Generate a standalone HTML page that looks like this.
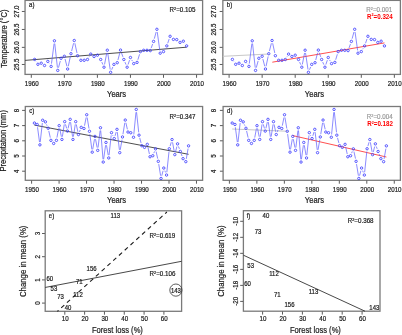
<!DOCTYPE html>
<html><head><meta charset="utf-8"><style>
html,body{margin:0;padding:0;background:#fff;}
body{width:402px;height:335px;overflow:hidden;font-family:"Liberation Sans",sans-serif;}
svg{display:block;will-change:transform;}
</style></head><body>
<svg width="402" height="335" viewBox="0 0 402 335" font-family="Liberation Sans, sans-serif">
<rect width="402" height="335" fill="#fff"/>
<rect x="25.05" y="0.40" width="177.55" height="74.00" fill="none" stroke="#7a7a7a" stroke-width="1.3"/>
<line x1="21.85" y1="11.46" x2="24.75" y2="11.46" stroke="#4a4a4a" stroke-width="0.9" />
<text transform="translate(18.60,11.46) rotate(-90) scale(1,1.08)" font-size="6.2" text-anchor="middle" fill="#1a1a1a" stroke="#1a1a1a" stroke-width="0.18" >27.0</text>
<line x1="21.85" y1="29.46" x2="24.75" y2="29.46" stroke="#4a4a4a" stroke-width="0.9" />
<text transform="translate(18.60,29.46) rotate(-90) scale(1,1.08)" font-size="6.2" text-anchor="middle" fill="#1a1a1a" stroke="#1a1a1a" stroke-width="0.18" >26.5</text>
<line x1="21.85" y1="47.37" x2="24.75" y2="47.37" stroke="#4a4a4a" stroke-width="0.9" />
<text transform="translate(18.60,47.37) rotate(-90) scale(1,1.08)" font-size="6.2" text-anchor="middle" fill="#1a1a1a" stroke="#1a1a1a" stroke-width="0.18" >26.0</text>
<line x1="21.85" y1="64.48" x2="24.75" y2="64.48" stroke="#4a4a4a" stroke-width="0.9" />
<text transform="translate(18.60,64.48) rotate(-90) scale(1,1.08)" font-size="6.2" text-anchor="middle" fill="#1a1a1a" stroke="#1a1a1a" stroke-width="0.18" >25.5</text>
<line x1="31.30" y1="74.70" x2="31.30" y2="77.80" stroke="#4a4a4a" stroke-width="0.9" />
<text transform="translate(31.70,85.95) scale(1,1.15)" font-size="6.2" text-anchor="middle" fill="#1a1a1a" stroke="#1a1a1a" stroke-width="0.18" >1960</text>
<line x1="64.35" y1="74.70" x2="64.35" y2="77.80" stroke="#4a4a4a" stroke-width="0.9" />
<text transform="translate(64.75,85.95) scale(1,1.15)" font-size="6.2" text-anchor="middle" fill="#1a1a1a" stroke="#1a1a1a" stroke-width="0.18" >1970</text>
<line x1="97.40" y1="74.70" x2="97.40" y2="77.80" stroke="#4a4a4a" stroke-width="0.9" />
<text transform="translate(97.80,85.95) scale(1,1.15)" font-size="6.2" text-anchor="middle" fill="#1a1a1a" stroke="#1a1a1a" stroke-width="0.18" >1980</text>
<line x1="130.45" y1="74.70" x2="130.45" y2="77.80" stroke="#4a4a4a" stroke-width="0.9" />
<text transform="translate(130.85,85.95) scale(1,1.15)" font-size="6.2" text-anchor="middle" fill="#1a1a1a" stroke="#1a1a1a" stroke-width="0.18" >1990</text>
<line x1="163.50" y1="74.70" x2="163.50" y2="77.80" stroke="#4a4a4a" stroke-width="0.9" />
<text transform="translate(163.90,85.95) scale(1,1.15)" font-size="6.2" text-anchor="middle" fill="#1a1a1a" stroke="#1a1a1a" stroke-width="0.18" >2000</text>
<line x1="196.55" y1="74.70" x2="196.55" y2="77.80" stroke="#4a4a4a" stroke-width="0.9" />
<text transform="translate(196.95,85.95) scale(1,1.15)" font-size="6.2" text-anchor="middle" fill="#1a1a1a" stroke="#1a1a1a" stroke-width="0.18" >2010</text>
<text transform="translate(116.60,96.80) scale(1,1.15)" font-size="7.6" text-anchor="middle" fill="#1a1a1a" stroke="#1a1a1a" stroke-width="0.18">Years</text>
<text transform="translate(29.05,7.30) scale(1,1.15)" font-size="6.0" text-anchor="start" fill="#1a1a1a" stroke="#1a1a1a" stroke-width="0.18">a)</text>
<rect x="222.85" y="0.40" width="177.55" height="74.00" fill="none" stroke="#7a7a7a" stroke-width="1.3"/>
<line x1="219.65" y1="11.46" x2="222.55" y2="11.46" stroke="#4a4a4a" stroke-width="0.9" />
<text transform="translate(216.40,11.46) rotate(-90) scale(1,1.08)" font-size="6.2" text-anchor="middle" fill="#1a1a1a" stroke="#1a1a1a" stroke-width="0.18" >27.0</text>
<line x1="219.65" y1="29.46" x2="222.55" y2="29.46" stroke="#4a4a4a" stroke-width="0.9" />
<text transform="translate(216.40,29.46) rotate(-90) scale(1,1.08)" font-size="6.2" text-anchor="middle" fill="#1a1a1a" stroke="#1a1a1a" stroke-width="0.18" >26.5</text>
<line x1="219.65" y1="47.37" x2="222.55" y2="47.37" stroke="#4a4a4a" stroke-width="0.9" />
<text transform="translate(216.40,47.37) rotate(-90) scale(1,1.08)" font-size="6.2" text-anchor="middle" fill="#1a1a1a" stroke="#1a1a1a" stroke-width="0.18" >26.0</text>
<line x1="219.65" y1="64.48" x2="222.55" y2="64.48" stroke="#4a4a4a" stroke-width="0.9" />
<text transform="translate(216.40,64.48) rotate(-90) scale(1,1.08)" font-size="6.2" text-anchor="middle" fill="#1a1a1a" stroke="#1a1a1a" stroke-width="0.18" >25.5</text>
<line x1="229.10" y1="74.70" x2="229.10" y2="77.80" stroke="#4a4a4a" stroke-width="0.9" />
<text transform="translate(229.50,85.95) scale(1,1.15)" font-size="6.2" text-anchor="middle" fill="#1a1a1a" stroke="#1a1a1a" stroke-width="0.18" >1960</text>
<line x1="262.15" y1="74.70" x2="262.15" y2="77.80" stroke="#4a4a4a" stroke-width="0.9" />
<text transform="translate(262.55,85.95) scale(1,1.15)" font-size="6.2" text-anchor="middle" fill="#1a1a1a" stroke="#1a1a1a" stroke-width="0.18" >1970</text>
<line x1="295.20" y1="74.70" x2="295.20" y2="77.80" stroke="#4a4a4a" stroke-width="0.9" />
<text transform="translate(295.60,85.95) scale(1,1.15)" font-size="6.2" text-anchor="middle" fill="#1a1a1a" stroke="#1a1a1a" stroke-width="0.18" >1980</text>
<line x1="328.25" y1="74.70" x2="328.25" y2="77.80" stroke="#4a4a4a" stroke-width="0.9" />
<text transform="translate(328.65,85.95) scale(1,1.15)" font-size="6.2" text-anchor="middle" fill="#1a1a1a" stroke="#1a1a1a" stroke-width="0.18" >1990</text>
<line x1="361.30" y1="74.70" x2="361.30" y2="77.80" stroke="#4a4a4a" stroke-width="0.9" />
<text transform="translate(361.70,85.95) scale(1,1.15)" font-size="6.2" text-anchor="middle" fill="#1a1a1a" stroke="#1a1a1a" stroke-width="0.18" >2000</text>
<line x1="394.35" y1="74.70" x2="394.35" y2="77.80" stroke="#4a4a4a" stroke-width="0.9" />
<text transform="translate(394.75,85.95) scale(1,1.15)" font-size="6.2" text-anchor="middle" fill="#1a1a1a" stroke="#1a1a1a" stroke-width="0.18" >2010</text>
<text transform="translate(314.40,96.80) scale(1,1.15)" font-size="7.6" text-anchor="middle" fill="#1a1a1a" stroke="#1a1a1a" stroke-width="0.18">Years</text>
<text transform="translate(226.85,7.30) scale(1,1.15)" font-size="6.0" text-anchor="start" fill="#1a1a1a" stroke="#1a1a1a" stroke-width="0.18">b)</text>
<text transform="translate(6.95,38.70) rotate(-90) scale(1,1.08)" font-size="7.6" text-anchor="middle" fill="#1a1a1a" stroke="#1a1a1a" stroke-width="0.18">Temperature (°C)</text>
<line x1="25.05" y1="60.40" x2="186.64" y2="47.20" stroke="#3a3a3a" stroke-width="0.9" />
<path d="M36.17 61.72L36.34 61.98M49.37 63.74L49.59 64.06M51.49 63.62L54.08 43.58M54.75 43.58L57.43 67.62M58.48 67.70L60.31 61.00M65.06 59.01L66.95 66.29M68.25 66.26L70.37 56.44M71.64 50.98L73.58 43.22M74.86 43.24L76.98 52.96M79.20 57.97L79.24 58.03M88.95 57.11L89.33 56.49M101.81 62.07L102.91 64.63M104.54 64.45L106.78 52.95M107.73 52.97L110.21 69.53M111.70 69.72L112.84 66.98M117.94 59.99L119.82 52.81M121.46 52.74L122.91 56.86M124.94 62.07L126.04 64.63M128.05 64.55L129.55 60.15M131.78 59.96L132.42 61.14M137.88 59.72L139.55 54.28M151.23 47.96L152.64 44.04M154.32 38.70L156.15 32.00M157.27 32.07L159.81 50.43M164.90 49.18L165.40 48.32M167.72 43.25L169.20 38.95M184.94 43.49L185.02 43.61" stroke="#5a5aff" stroke-width="0.7" fill="none"/>
<circle cx="34.61" cy="59.40" r="1.2" stroke="#3c3cff" stroke-width="0.85" fill="none"/>
<circle cx="37.91" cy="64.30" r="1.2" stroke="#3c3cff" stroke-width="0.85" fill="none"/>
<circle cx="41.22" cy="63.20" r="1.2" stroke="#3c3cff" stroke-width="0.85" fill="none"/>
<circle cx="44.52" cy="65.50" r="1.2" stroke="#3c3cff" stroke-width="0.85" fill="none"/>
<circle cx="47.83" cy="61.40" r="1.2" stroke="#3c3cff" stroke-width="0.85" fill="none"/>
<circle cx="51.13" cy="66.40" r="1.2" stroke="#3c3cff" stroke-width="0.85" fill="none"/>
<circle cx="54.44" cy="40.80" r="1.2" stroke="#3c3cff" stroke-width="0.85" fill="none"/>
<circle cx="57.74" cy="70.40" r="1.2" stroke="#3c3cff" stroke-width="0.85" fill="none"/>
<circle cx="61.05" cy="58.30" r="1.2" stroke="#3c3cff" stroke-width="0.85" fill="none"/>
<circle cx="64.35" cy="56.30" r="1.2" stroke="#3c3cff" stroke-width="0.85" fill="none"/>
<circle cx="67.66" cy="69.00" r="1.2" stroke="#3c3cff" stroke-width="0.85" fill="none"/>
<circle cx="70.96" cy="53.70" r="1.2" stroke="#3c3cff" stroke-width="0.85" fill="none"/>
<circle cx="74.27" cy="40.50" r="1.2" stroke="#3c3cff" stroke-width="0.85" fill="none"/>
<circle cx="77.57" cy="55.70" r="1.2" stroke="#3c3cff" stroke-width="0.85" fill="none"/>
<circle cx="80.88" cy="60.30" r="1.2" stroke="#3c3cff" stroke-width="0.85" fill="none"/>
<circle cx="84.18" cy="60.30" r="1.2" stroke="#3c3cff" stroke-width="0.85" fill="none"/>
<circle cx="87.48" cy="59.50" r="1.2" stroke="#3c3cff" stroke-width="0.85" fill="none"/>
<circle cx="90.79" cy="54.10" r="1.2" stroke="#3c3cff" stroke-width="0.85" fill="none"/>
<circle cx="94.09" cy="56.50" r="1.2" stroke="#3c3cff" stroke-width="0.85" fill="none"/>
<circle cx="97.40" cy="55.20" r="1.2" stroke="#3c3cff" stroke-width="0.85" fill="none"/>
<circle cx="100.70" cy="59.50" r="1.2" stroke="#3c3cff" stroke-width="0.85" fill="none"/>
<circle cx="104.01" cy="67.20" r="1.2" stroke="#3c3cff" stroke-width="0.85" fill="none"/>
<circle cx="107.31" cy="50.20" r="1.2" stroke="#3c3cff" stroke-width="0.85" fill="none"/>
<circle cx="110.62" cy="72.30" r="1.2" stroke="#3c3cff" stroke-width="0.85" fill="none"/>
<circle cx="113.92" cy="64.40" r="1.2" stroke="#3c3cff" stroke-width="0.85" fill="none"/>
<circle cx="117.23" cy="62.70" r="1.2" stroke="#3c3cff" stroke-width="0.85" fill="none"/>
<circle cx="120.53" cy="50.10" r="1.2" stroke="#3c3cff" stroke-width="0.85" fill="none"/>
<circle cx="123.84" cy="59.50" r="1.2" stroke="#3c3cff" stroke-width="0.85" fill="none"/>
<circle cx="127.14" cy="67.20" r="1.2" stroke="#3c3cff" stroke-width="0.85" fill="none"/>
<circle cx="130.45" cy="57.50" r="1.2" stroke="#3c3cff" stroke-width="0.85" fill="none"/>
<circle cx="133.75" cy="63.60" r="1.2" stroke="#3c3cff" stroke-width="0.85" fill="none"/>
<circle cx="137.06" cy="62.40" r="1.2" stroke="#3c3cff" stroke-width="0.85" fill="none"/>
<circle cx="140.37" cy="51.60" r="1.2" stroke="#3c3cff" stroke-width="0.85" fill="none"/>
<circle cx="143.67" cy="50.30" r="1.2" stroke="#3c3cff" stroke-width="0.85" fill="none"/>
<circle cx="146.98" cy="50.30" r="1.2" stroke="#3c3cff" stroke-width="0.85" fill="none"/>
<circle cx="150.28" cy="50.60" r="1.2" stroke="#3c3cff" stroke-width="0.85" fill="none"/>
<circle cx="153.59" cy="41.40" r="1.2" stroke="#3c3cff" stroke-width="0.85" fill="none"/>
<circle cx="156.89" cy="29.30" r="1.2" stroke="#3c3cff" stroke-width="0.85" fill="none"/>
<circle cx="160.20" cy="53.20" r="1.2" stroke="#3c3cff" stroke-width="0.85" fill="none"/>
<circle cx="163.50" cy="51.60" r="1.2" stroke="#3c3cff" stroke-width="0.85" fill="none"/>
<circle cx="166.81" cy="45.90" r="1.2" stroke="#3c3cff" stroke-width="0.85" fill="none"/>
<circle cx="170.11" cy="36.30" r="1.2" stroke="#3c3cff" stroke-width="0.85" fill="none"/>
<circle cx="173.42" cy="39.40" r="1.2" stroke="#3c3cff" stroke-width="0.85" fill="none"/>
<circle cx="176.72" cy="39.60" r="1.2" stroke="#3c3cff" stroke-width="0.85" fill="none"/>
<circle cx="180.03" cy="42.40" r="1.2" stroke="#3c3cff" stroke-width="0.85" fill="none"/>
<circle cx="183.33" cy="41.20" r="1.2" stroke="#3c3cff" stroke-width="0.85" fill="none"/>
<circle cx="186.64" cy="45.90" r="1.2" stroke="#3c3cff" stroke-width="0.85" fill="none"/>
<text transform="translate(195.40,12.26) scale(1,1.1)" font-size="6.25" text-anchor="end" fill="#1a1a1a" stroke="#1a1a1a" stroke-width="0.18">R<tspan font-size="3.75" dy="-1.88">2</tspan><tspan dy="1.88">=0.105</tspan></text>
<line x1="222.85" y1="56.30" x2="269.00" y2="54.00" stroke="#c8c8c8" stroke-width="1.0" />
<line x1="272.30" y1="62.20" x2="384.44" y2="42.90" stroke="#ff5050" stroke-width="1.0" />
<path d="M233.97 61.72L234.14 61.98M247.17 63.74L247.39 64.06M249.29 63.62L251.88 43.58M252.55 43.58L255.23 67.62M256.28 67.70L258.11 61.00M262.86 59.01L264.75 66.29M266.05 66.26L268.17 56.44M269.44 50.98L271.38 43.22M272.66 43.24L274.78 52.96M277.00 57.97L277.04 58.03M286.75 57.11L287.13 56.49M299.61 62.07L300.71 64.63M302.34 64.45L304.58 52.95M305.53 52.97L308.01 69.53M309.50 69.72L310.64 66.98M315.74 59.99L317.62 52.81M319.26 52.74L320.71 56.86M322.74 62.07L323.84 64.63M325.85 64.55L327.35 60.15M329.58 59.96L330.22 61.14M335.68 59.72L337.35 54.28M349.03 47.96L350.44 44.04M352.12 38.70L353.95 32.00M355.07 32.07L357.61 50.43M362.70 49.18L363.20 48.32M365.52 43.25L367.00 38.95M382.74 43.49L382.82 43.61" stroke="#5a5aff" stroke-width="0.7" fill="none"/>
<circle cx="232.41" cy="59.40" r="1.2" stroke="#3c3cff" stroke-width="0.85" fill="none"/>
<circle cx="235.71" cy="64.30" r="1.2" stroke="#3c3cff" stroke-width="0.85" fill="none"/>
<circle cx="239.02" cy="63.20" r="1.2" stroke="#3c3cff" stroke-width="0.85" fill="none"/>
<circle cx="242.32" cy="65.50" r="1.2" stroke="#3c3cff" stroke-width="0.85" fill="none"/>
<circle cx="245.62" cy="61.40" r="1.2" stroke="#3c3cff" stroke-width="0.85" fill="none"/>
<circle cx="248.93" cy="66.40" r="1.2" stroke="#3c3cff" stroke-width="0.85" fill="none"/>
<circle cx="252.24" cy="40.80" r="1.2" stroke="#3c3cff" stroke-width="0.85" fill="none"/>
<circle cx="255.54" cy="70.40" r="1.2" stroke="#3c3cff" stroke-width="0.85" fill="none"/>
<circle cx="258.85" cy="58.30" r="1.2" stroke="#3c3cff" stroke-width="0.85" fill="none"/>
<circle cx="262.15" cy="56.30" r="1.2" stroke="#3c3cff" stroke-width="0.85" fill="none"/>
<circle cx="265.46" cy="69.00" r="1.2" stroke="#3c3cff" stroke-width="0.85" fill="none"/>
<circle cx="268.76" cy="53.70" r="1.2" stroke="#3c3cff" stroke-width="0.85" fill="none"/>
<circle cx="272.06" cy="40.50" r="1.2" stroke="#3c3cff" stroke-width="0.85" fill="none"/>
<circle cx="275.37" cy="55.70" r="1.2" stroke="#3c3cff" stroke-width="0.85" fill="none"/>
<circle cx="278.68" cy="60.30" r="1.2" stroke="#3c3cff" stroke-width="0.85" fill="none"/>
<circle cx="281.98" cy="60.30" r="1.2" stroke="#3c3cff" stroke-width="0.85" fill="none"/>
<circle cx="285.29" cy="59.50" r="1.2" stroke="#3c3cff" stroke-width="0.85" fill="none"/>
<circle cx="288.59" cy="54.10" r="1.2" stroke="#3c3cff" stroke-width="0.85" fill="none"/>
<circle cx="291.89" cy="56.50" r="1.2" stroke="#3c3cff" stroke-width="0.85" fill="none"/>
<circle cx="295.20" cy="55.20" r="1.2" stroke="#3c3cff" stroke-width="0.85" fill="none"/>
<circle cx="298.50" cy="59.50" r="1.2" stroke="#3c3cff" stroke-width="0.85" fill="none"/>
<circle cx="301.81" cy="67.20" r="1.2" stroke="#3c3cff" stroke-width="0.85" fill="none"/>
<circle cx="305.12" cy="50.20" r="1.2" stroke="#3c3cff" stroke-width="0.85" fill="none"/>
<circle cx="308.42" cy="72.30" r="1.2" stroke="#3c3cff" stroke-width="0.85" fill="none"/>
<circle cx="311.73" cy="64.40" r="1.2" stroke="#3c3cff" stroke-width="0.85" fill="none"/>
<circle cx="315.03" cy="62.70" r="1.2" stroke="#3c3cff" stroke-width="0.85" fill="none"/>
<circle cx="318.34" cy="50.10" r="1.2" stroke="#3c3cff" stroke-width="0.85" fill="none"/>
<circle cx="321.64" cy="59.50" r="1.2" stroke="#3c3cff" stroke-width="0.85" fill="none"/>
<circle cx="324.94" cy="67.20" r="1.2" stroke="#3c3cff" stroke-width="0.85" fill="none"/>
<circle cx="328.25" cy="57.50" r="1.2" stroke="#3c3cff" stroke-width="0.85" fill="none"/>
<circle cx="331.56" cy="63.60" r="1.2" stroke="#3c3cff" stroke-width="0.85" fill="none"/>
<circle cx="334.86" cy="62.40" r="1.2" stroke="#3c3cff" stroke-width="0.85" fill="none"/>
<circle cx="338.17" cy="51.60" r="1.2" stroke="#3c3cff" stroke-width="0.85" fill="none"/>
<circle cx="341.47" cy="50.30" r="1.2" stroke="#3c3cff" stroke-width="0.85" fill="none"/>
<circle cx="344.78" cy="50.30" r="1.2" stroke="#3c3cff" stroke-width="0.85" fill="none"/>
<circle cx="348.08" cy="50.60" r="1.2" stroke="#3c3cff" stroke-width="0.85" fill="none"/>
<circle cx="351.38" cy="41.40" r="1.2" stroke="#3c3cff" stroke-width="0.85" fill="none"/>
<circle cx="354.69" cy="29.30" r="1.2" stroke="#3c3cff" stroke-width="0.85" fill="none"/>
<circle cx="358.00" cy="53.20" r="1.2" stroke="#3c3cff" stroke-width="0.85" fill="none"/>
<circle cx="361.30" cy="51.60" r="1.2" stroke="#3c3cff" stroke-width="0.85" fill="none"/>
<circle cx="364.61" cy="45.90" r="1.2" stroke="#3c3cff" stroke-width="0.85" fill="none"/>
<circle cx="367.91" cy="36.30" r="1.2" stroke="#3c3cff" stroke-width="0.85" fill="none"/>
<circle cx="371.22" cy="39.40" r="1.2" stroke="#3c3cff" stroke-width="0.85" fill="none"/>
<circle cx="374.52" cy="39.60" r="1.2" stroke="#3c3cff" stroke-width="0.85" fill="none"/>
<circle cx="377.83" cy="42.40" r="1.2" stroke="#3c3cff" stroke-width="0.85" fill="none"/>
<circle cx="381.13" cy="41.20" r="1.2" stroke="#3c3cff" stroke-width="0.85" fill="none"/>
<circle cx="384.44" cy="45.90" r="1.2" stroke="#3c3cff" stroke-width="0.85" fill="none"/>
<text transform="translate(392.20,12.36) scale(1,1.1)" font-size="6.25" text-anchor="end" fill="#9a9a9a" stroke="#9a9a9a" stroke-width="0.18">R<tspan font-size="3.75" dy="-1.88">2</tspan><tspan dy="1.88">=0.001</tspan></text>
<text transform="translate(392.80,18.56) scale(1,1.1)" font-size="6.25" text-anchor="end" fill="#ff0000" stroke="#ff0000" stroke-width="0" font-weight="bold">R<tspan font-size="3.75" dy="-1.88">2</tspan><tspan dy="1.88">=0.324</tspan></text>
<rect x="25.30" y="106.50" width="177.30" height="73.80" fill="none" stroke="#7a7a7a" stroke-width="1.3"/>
<line x1="22.10" y1="110.40" x2="25.00" y2="110.40" stroke="#4a4a4a" stroke-width="0.9" />
<text transform="translate(18.60,110.40) rotate(-90) scale(1,1.08)" font-size="6.2" text-anchor="middle" fill="#1a1a1a" stroke="#1a1a1a" stroke-width="0.18" >8</text>
<line x1="22.10" y1="125.60" x2="25.00" y2="125.60" stroke="#4a4a4a" stroke-width="0.9" />
<text transform="translate(18.60,125.60) rotate(-90) scale(1,1.08)" font-size="6.2" text-anchor="middle" fill="#1a1a1a" stroke="#1a1a1a" stroke-width="0.18" >7</text>
<line x1="22.10" y1="140.80" x2="25.00" y2="140.80" stroke="#4a4a4a" stroke-width="0.9" />
<text transform="translate(18.60,140.80) rotate(-90) scale(1,1.08)" font-size="6.2" text-anchor="middle" fill="#1a1a1a" stroke="#1a1a1a" stroke-width="0.18" >6</text>
<line x1="22.10" y1="156.00" x2="25.00" y2="156.00" stroke="#4a4a4a" stroke-width="0.9" />
<text transform="translate(18.60,156.00) rotate(-90) scale(1,1.08)" font-size="6.2" text-anchor="middle" fill="#1a1a1a" stroke="#1a1a1a" stroke-width="0.18" >5</text>
<line x1="22.10" y1="171.20" x2="25.00" y2="171.20" stroke="#4a4a4a" stroke-width="0.9" />
<text transform="translate(18.60,171.20) rotate(-90) scale(1,1.08)" font-size="6.2" text-anchor="middle" fill="#1a1a1a" stroke="#1a1a1a" stroke-width="0.18" >4</text>
<line x1="31.60" y1="180.60" x2="31.60" y2="183.70" stroke="#4a4a4a" stroke-width="0.9" />
<text transform="translate(32.00,192.15) scale(1,1.15)" font-size="6.2" text-anchor="middle" fill="#1a1a1a" stroke="#1a1a1a" stroke-width="0.18" >1950</text>
<line x1="59.08" y1="180.60" x2="59.08" y2="183.70" stroke="#4a4a4a" stroke-width="0.9" />
<text transform="translate(59.48,192.15) scale(1,1.15)" font-size="6.2" text-anchor="middle" fill="#1a1a1a" stroke="#1a1a1a" stroke-width="0.18" >1960</text>
<line x1="86.56" y1="180.60" x2="86.56" y2="183.70" stroke="#4a4a4a" stroke-width="0.9" />
<text transform="translate(86.96,192.15) scale(1,1.15)" font-size="6.2" text-anchor="middle" fill="#1a1a1a" stroke="#1a1a1a" stroke-width="0.18" >1970</text>
<line x1="114.04" y1="180.60" x2="114.04" y2="183.70" stroke="#4a4a4a" stroke-width="0.9" />
<text transform="translate(114.44,192.15) scale(1,1.15)" font-size="6.2" text-anchor="middle" fill="#1a1a1a" stroke="#1a1a1a" stroke-width="0.18" >1980</text>
<line x1="141.52" y1="180.60" x2="141.52" y2="183.70" stroke="#4a4a4a" stroke-width="0.9" />
<text transform="translate(141.92,192.15) scale(1,1.15)" font-size="6.2" text-anchor="middle" fill="#1a1a1a" stroke="#1a1a1a" stroke-width="0.18" >1990</text>
<line x1="169.00" y1="180.60" x2="169.00" y2="183.70" stroke="#4a4a4a" stroke-width="0.9" />
<text transform="translate(169.40,192.15) scale(1,1.15)" font-size="6.2" text-anchor="middle" fill="#1a1a1a" stroke="#1a1a1a" stroke-width="0.18" >2000</text>
<line x1="196.48" y1="180.60" x2="196.48" y2="183.70" stroke="#4a4a4a" stroke-width="0.9" />
<text transform="translate(196.88,192.15) scale(1,1.15)" font-size="6.2" text-anchor="middle" fill="#1a1a1a" stroke="#1a1a1a" stroke-width="0.18" >2010</text>
<text transform="translate(116.60,203.00) scale(1,1.15)" font-size="7.6" text-anchor="middle" fill="#1a1a1a" stroke="#1a1a1a" stroke-width="0.18">Years</text>
<text transform="translate(29.30,113.40) scale(1,1.15)" font-size="6.0" text-anchor="start" fill="#1a1a1a" stroke="#1a1a1a" stroke-width="0.18">c)</text>
<rect x="223.10" y="106.50" width="177.30" height="73.80" fill="none" stroke="#7a7a7a" stroke-width="1.3"/>
<line x1="219.90" y1="110.40" x2="222.80" y2="110.40" stroke="#4a4a4a" stroke-width="0.9" />
<text transform="translate(216.40,110.40) rotate(-90) scale(1,1.08)" font-size="6.2" text-anchor="middle" fill="#1a1a1a" stroke="#1a1a1a" stroke-width="0.18" >8</text>
<line x1="219.90" y1="125.60" x2="222.80" y2="125.60" stroke="#4a4a4a" stroke-width="0.9" />
<text transform="translate(216.40,125.60) rotate(-90) scale(1,1.08)" font-size="6.2" text-anchor="middle" fill="#1a1a1a" stroke="#1a1a1a" stroke-width="0.18" >7</text>
<line x1="219.90" y1="140.80" x2="222.80" y2="140.80" stroke="#4a4a4a" stroke-width="0.9" />
<text transform="translate(216.40,140.80) rotate(-90) scale(1,1.08)" font-size="6.2" text-anchor="middle" fill="#1a1a1a" stroke="#1a1a1a" stroke-width="0.18" >6</text>
<line x1="219.90" y1="156.00" x2="222.80" y2="156.00" stroke="#4a4a4a" stroke-width="0.9" />
<text transform="translate(216.40,156.00) rotate(-90) scale(1,1.08)" font-size="6.2" text-anchor="middle" fill="#1a1a1a" stroke="#1a1a1a" stroke-width="0.18" >5</text>
<line x1="219.90" y1="171.20" x2="222.80" y2="171.20" stroke="#4a4a4a" stroke-width="0.9" />
<text transform="translate(216.40,171.20) rotate(-90) scale(1,1.08)" font-size="6.2" text-anchor="middle" fill="#1a1a1a" stroke="#1a1a1a" stroke-width="0.18" >4</text>
<line x1="229.40" y1="180.60" x2="229.40" y2="183.70" stroke="#4a4a4a" stroke-width="0.9" />
<text transform="translate(229.80,192.15) scale(1,1.15)" font-size="6.2" text-anchor="middle" fill="#1a1a1a" stroke="#1a1a1a" stroke-width="0.18" >1950</text>
<line x1="256.88" y1="180.60" x2="256.88" y2="183.70" stroke="#4a4a4a" stroke-width="0.9" />
<text transform="translate(257.28,192.15) scale(1,1.15)" font-size="6.2" text-anchor="middle" fill="#1a1a1a" stroke="#1a1a1a" stroke-width="0.18" >1960</text>
<line x1="284.36" y1="180.60" x2="284.36" y2="183.70" stroke="#4a4a4a" stroke-width="0.9" />
<text transform="translate(284.76,192.15) scale(1,1.15)" font-size="6.2" text-anchor="middle" fill="#1a1a1a" stroke="#1a1a1a" stroke-width="0.18" >1970</text>
<line x1="311.84" y1="180.60" x2="311.84" y2="183.70" stroke="#4a4a4a" stroke-width="0.9" />
<text transform="translate(312.24,192.15) scale(1,1.15)" font-size="6.2" text-anchor="middle" fill="#1a1a1a" stroke="#1a1a1a" stroke-width="0.18" >1980</text>
<line x1="339.32" y1="180.60" x2="339.32" y2="183.70" stroke="#4a4a4a" stroke-width="0.9" />
<text transform="translate(339.72,192.15) scale(1,1.15)" font-size="6.2" text-anchor="middle" fill="#1a1a1a" stroke="#1a1a1a" stroke-width="0.18" >1990</text>
<line x1="366.80" y1="180.60" x2="366.80" y2="183.70" stroke="#4a4a4a" stroke-width="0.9" />
<text transform="translate(367.20,192.15) scale(1,1.15)" font-size="6.2" text-anchor="middle" fill="#1a1a1a" stroke="#1a1a1a" stroke-width="0.18" >2000</text>
<line x1="394.28" y1="180.60" x2="394.28" y2="183.70" stroke="#4a4a4a" stroke-width="0.9" />
<text transform="translate(394.68,192.15) scale(1,1.15)" font-size="6.2" text-anchor="middle" fill="#1a1a1a" stroke="#1a1a1a" stroke-width="0.18" >2010</text>
<text transform="translate(314.40,203.00) scale(1,1.15)" font-size="7.6" text-anchor="middle" fill="#1a1a1a" stroke="#1a1a1a" stroke-width="0.18">Years</text>
<text transform="translate(227.10,113.40) scale(1,1.15)" font-size="6.0" text-anchor="start" fill="#1a1a1a" stroke="#1a1a1a" stroke-width="0.18">d)</text>
<text transform="translate(6.40,140.80) rotate(-90) scale(1,1.08)" font-size="7.6" text-anchor="middle" fill="#1a1a1a" stroke="#1a1a1a" stroke-width="0.18">Precipitation (mm)</text>
<line x1="34.40" y1="125.10" x2="188.57" y2="154.30" stroke="#3a3a3a" stroke-width="0.9" />
<path d="M37.53 127.22L39.53 142.08M40.22 142.07L42.35 123.03M46.52 124.42L47.06 125.68M48.79 130.98L50.30 137.62M56.94 137.60L58.66 128.40M59.73 128.40L61.39 136.70M62.36 136.68L64.26 124.42M65.47 124.34L66.66 128.41M68.08 128.37L69.55 122.08M70.57 122.12L72.57 136.68M73.37 136.68L75.27 124.42M76.28 124.39L77.87 131.81M79.45 131.93L80.20 129.97M84.51 125.70L86.16 117.50M87.17 117.51L89.00 128.54M89.83 134.08L91.85 149.37M92.70 149.39L94.49 139.16M95.51 139.15L97.18 147.60M98.06 147.57L100.14 130.53M100.70 130.54L103.00 159.26M103.62 159.28L105.59 145.22M106.47 145.21L108.24 155.19M109.04 155.17L111.18 135.43M112.67 135.19L113.06 136.01M115.04 135.87L116.19 132.03M117.32 132.13L119.42 149.87M120.23 149.89L122.02 139.71M122.95 134.19L124.80 122.81M125.88 122.78L127.38 129.32M133.79 134.46L135.99 112.24M136.56 112.23L138.72 132.37M139.73 137.86L141.06 142.94M147.88 147.08L149.42 154.02M153.82 153.15L154.50 151.45M156.14 151.58L157.69 158.62M158.73 164.11L160.60 175.69M161.76 175.74L163.08 170.76M164.82 170.66L165.52 172.44M166.84 172.27L169.01 151.53M170.10 146.07L171.25 142.23M172.56 142.30L174.30 151.90M175.50 151.94L176.87 146.56M178.51 146.48L179.36 148.82M181.31 154.07L182.06 156.03M186.30 158.89L188.09 148.61" stroke="#5a5aff" stroke-width="0.7" fill="none"/>
<circle cx="34.40" cy="123.05" r="1.2" stroke="#3c3cff" stroke-width="0.85" fill="none"/>
<circle cx="37.16" cy="124.45" r="1.2" stroke="#3c3cff" stroke-width="0.85" fill="none"/>
<circle cx="39.91" cy="144.85" r="1.2" stroke="#3c3cff" stroke-width="0.85" fill="none"/>
<circle cx="42.66" cy="120.25" r="1.2" stroke="#3c3cff" stroke-width="0.85" fill="none"/>
<circle cx="45.42" cy="121.85" r="1.2" stroke="#3c3cff" stroke-width="0.85" fill="none"/>
<circle cx="48.17" cy="128.25" r="1.2" stroke="#3c3cff" stroke-width="0.85" fill="none"/>
<circle cx="50.92" cy="140.35" r="1.2" stroke="#3c3cff" stroke-width="0.85" fill="none"/>
<circle cx="53.67" cy="143.45" r="1.2" stroke="#3c3cff" stroke-width="0.85" fill="none"/>
<circle cx="56.43" cy="140.35" r="1.2" stroke="#3c3cff" stroke-width="0.85" fill="none"/>
<circle cx="59.18" cy="125.65" r="1.2" stroke="#3c3cff" stroke-width="0.85" fill="none"/>
<circle cx="61.93" cy="139.45" r="1.2" stroke="#3c3cff" stroke-width="0.85" fill="none"/>
<circle cx="64.69" cy="121.65" r="1.2" stroke="#3c3cff" stroke-width="0.85" fill="none"/>
<circle cx="67.44" cy="131.10" r="1.2" stroke="#3c3cff" stroke-width="0.85" fill="none"/>
<circle cx="70.19" cy="119.35" r="1.2" stroke="#3c3cff" stroke-width="0.85" fill="none"/>
<circle cx="72.95" cy="139.45" r="1.2" stroke="#3c3cff" stroke-width="0.85" fill="none"/>
<circle cx="75.70" cy="121.65" r="1.2" stroke="#3c3cff" stroke-width="0.85" fill="none"/>
<circle cx="78.45" cy="134.55" r="1.2" stroke="#3c3cff" stroke-width="0.85" fill="none"/>
<circle cx="81.20" cy="127.35" r="1.2" stroke="#3c3cff" stroke-width="0.85" fill="none"/>
<circle cx="83.96" cy="128.45" r="1.2" stroke="#3c3cff" stroke-width="0.85" fill="none"/>
<circle cx="86.71" cy="114.75" r="1.2" stroke="#3c3cff" stroke-width="0.85" fill="none"/>
<circle cx="89.46" cy="131.30" r="1.2" stroke="#3c3cff" stroke-width="0.85" fill="none"/>
<circle cx="92.22" cy="152.15" r="1.2" stroke="#3c3cff" stroke-width="0.85" fill="none"/>
<circle cx="94.97" cy="136.40" r="1.2" stroke="#3c3cff" stroke-width="0.85" fill="none"/>
<circle cx="97.72" cy="150.35" r="1.2" stroke="#3c3cff" stroke-width="0.85" fill="none"/>
<circle cx="100.48" cy="127.75" r="1.2" stroke="#3c3cff" stroke-width="0.85" fill="none"/>
<circle cx="103.23" cy="162.05" r="1.2" stroke="#3c3cff" stroke-width="0.85" fill="none"/>
<circle cx="105.98" cy="142.45" r="1.2" stroke="#3c3cff" stroke-width="0.85" fill="none"/>
<circle cx="108.73" cy="157.95" r="1.2" stroke="#3c3cff" stroke-width="0.85" fill="none"/>
<circle cx="111.49" cy="132.65" r="1.2" stroke="#3c3cff" stroke-width="0.85" fill="none"/>
<circle cx="114.24" cy="138.55" r="1.2" stroke="#3c3cff" stroke-width="0.85" fill="none"/>
<circle cx="116.99" cy="129.35" r="1.2" stroke="#3c3cff" stroke-width="0.85" fill="none"/>
<circle cx="119.75" cy="152.65" r="1.2" stroke="#3c3cff" stroke-width="0.85" fill="none"/>
<circle cx="122.50" cy="136.95" r="1.2" stroke="#3c3cff" stroke-width="0.85" fill="none"/>
<circle cx="125.25" cy="120.05" r="1.2" stroke="#3c3cff" stroke-width="0.85" fill="none"/>
<circle cx="128.00" cy="132.05" r="1.2" stroke="#3c3cff" stroke-width="0.85" fill="none"/>
<circle cx="130.76" cy="132.75" r="1.2" stroke="#3c3cff" stroke-width="0.85" fill="none"/>
<circle cx="133.51" cy="137.25" r="1.2" stroke="#3c3cff" stroke-width="0.85" fill="none"/>
<circle cx="136.26" cy="109.45" r="1.2" stroke="#3c3cff" stroke-width="0.85" fill="none"/>
<circle cx="139.02" cy="135.15" r="1.2" stroke="#3c3cff" stroke-width="0.85" fill="none"/>
<circle cx="141.77" cy="145.65" r="1.2" stroke="#3c3cff" stroke-width="0.85" fill="none"/>
<circle cx="144.52" cy="147.35" r="1.2" stroke="#3c3cff" stroke-width="0.85" fill="none"/>
<circle cx="147.28" cy="144.35" r="1.2" stroke="#3c3cff" stroke-width="0.85" fill="none"/>
<circle cx="150.03" cy="156.75" r="1.2" stroke="#3c3cff" stroke-width="0.85" fill="none"/>
<circle cx="152.78" cy="155.75" r="1.2" stroke="#3c3cff" stroke-width="0.85" fill="none"/>
<circle cx="155.53" cy="148.85" r="1.2" stroke="#3c3cff" stroke-width="0.85" fill="none"/>
<circle cx="158.29" cy="161.35" r="1.2" stroke="#3c3cff" stroke-width="0.85" fill="none"/>
<circle cx="161.04" cy="178.45" r="1.2" stroke="#3c3cff" stroke-width="0.85" fill="none"/>
<circle cx="163.79" cy="168.05" r="1.2" stroke="#3c3cff" stroke-width="0.85" fill="none"/>
<circle cx="166.55" cy="175.05" r="1.2" stroke="#3c3cff" stroke-width="0.85" fill="none"/>
<circle cx="169.30" cy="148.75" r="1.2" stroke="#3c3cff" stroke-width="0.85" fill="none"/>
<circle cx="172.05" cy="139.55" r="1.2" stroke="#3c3cff" stroke-width="0.85" fill="none"/>
<circle cx="174.81" cy="154.65" r="1.2" stroke="#3c3cff" stroke-width="0.85" fill="none"/>
<circle cx="177.56" cy="143.85" r="1.2" stroke="#3c3cff" stroke-width="0.85" fill="none"/>
<circle cx="180.31" cy="151.45" r="1.2" stroke="#3c3cff" stroke-width="0.85" fill="none"/>
<circle cx="183.07" cy="158.65" r="1.2" stroke="#3c3cff" stroke-width="0.85" fill="none"/>
<circle cx="185.82" cy="161.65" r="1.2" stroke="#3c3cff" stroke-width="0.85" fill="none"/>
<circle cx="188.57" cy="145.85" r="1.2" stroke="#3c3cff" stroke-width="0.85" fill="none"/>
<text transform="translate(195.40,119.06) scale(1,1.1)" font-size="6.25" text-anchor="end" fill="#1a1a1a" stroke="#1a1a1a" stroke-width="0.18">R<tspan font-size="3.75" dy="-1.88">2</tspan><tspan dy="1.88">=0.347</tspan></text>
<line x1="232.20" y1="129.00" x2="288.60" y2="131.30" stroke="#c8c8c8" stroke-width="1.0" />
<line x1="292.40" y1="135.50" x2="386.37" y2="157.00" stroke="#ff5050" stroke-width="1.0" />
<path d="M235.33 127.22L237.33 142.08M238.02 142.07L240.15 123.03M244.32 124.42L244.86 125.68M246.59 130.98L248.10 137.62M254.74 137.60L256.46 128.40M257.53 128.40L259.19 136.70M260.16 136.68L262.06 124.42M263.27 124.34L264.46 128.41M265.88 128.37L267.35 122.08M268.37 122.12L270.37 136.68M271.17 136.68L273.07 124.42M274.08 124.39L275.67 131.81M277.25 131.93L278.00 129.97M282.31 125.70L283.96 117.50M284.97 117.51L286.80 128.54M287.63 134.08L289.65 149.37M290.50 149.39L292.29 139.16M293.31 139.15L294.98 147.60M295.86 147.57L297.94 130.53M298.50 130.54L300.80 159.26M301.42 159.28L303.39 145.22M304.27 145.21L306.04 155.19M306.84 155.17L308.98 135.43M310.47 135.19L310.86 136.01M312.84 135.87L313.99 132.03M315.12 132.13L317.22 149.87M318.03 149.89L319.82 139.71M320.75 134.19L322.60 122.81M323.68 122.78L325.18 129.32M331.59 134.46L333.79 112.24M334.36 112.23L336.52 132.37M337.53 137.86L338.86 142.94M345.68 147.08L347.22 154.02M351.62 153.15L352.30 151.45M353.94 151.58L355.49 158.62M356.53 164.11L358.40 175.69M359.56 175.74L360.88 170.76M362.62 170.66L363.32 172.44M364.64 172.27L366.81 151.53M367.90 146.07L369.05 142.23M370.36 142.30L372.10 151.90M373.30 151.94L374.67 146.56M376.31 146.48L377.16 148.82M379.11 154.07L379.86 156.03M384.10 158.89L385.89 148.61" stroke="#5a5aff" stroke-width="0.7" fill="none"/>
<circle cx="232.20" cy="123.05" r="1.2" stroke="#3c3cff" stroke-width="0.85" fill="none"/>
<circle cx="234.96" cy="124.45" r="1.2" stroke="#3c3cff" stroke-width="0.85" fill="none"/>
<circle cx="237.71" cy="144.85" r="1.2" stroke="#3c3cff" stroke-width="0.85" fill="none"/>
<circle cx="240.46" cy="120.25" r="1.2" stroke="#3c3cff" stroke-width="0.85" fill="none"/>
<circle cx="243.22" cy="121.85" r="1.2" stroke="#3c3cff" stroke-width="0.85" fill="none"/>
<circle cx="245.97" cy="128.25" r="1.2" stroke="#3c3cff" stroke-width="0.85" fill="none"/>
<circle cx="248.72" cy="140.35" r="1.2" stroke="#3c3cff" stroke-width="0.85" fill="none"/>
<circle cx="251.47" cy="143.45" r="1.2" stroke="#3c3cff" stroke-width="0.85" fill="none"/>
<circle cx="254.23" cy="140.35" r="1.2" stroke="#3c3cff" stroke-width="0.85" fill="none"/>
<circle cx="256.98" cy="125.65" r="1.2" stroke="#3c3cff" stroke-width="0.85" fill="none"/>
<circle cx="259.73" cy="139.45" r="1.2" stroke="#3c3cff" stroke-width="0.85" fill="none"/>
<circle cx="262.49" cy="121.65" r="1.2" stroke="#3c3cff" stroke-width="0.85" fill="none"/>
<circle cx="265.24" cy="131.10" r="1.2" stroke="#3c3cff" stroke-width="0.85" fill="none"/>
<circle cx="267.99" cy="119.35" r="1.2" stroke="#3c3cff" stroke-width="0.85" fill="none"/>
<circle cx="270.75" cy="139.45" r="1.2" stroke="#3c3cff" stroke-width="0.85" fill="none"/>
<circle cx="273.50" cy="121.65" r="1.2" stroke="#3c3cff" stroke-width="0.85" fill="none"/>
<circle cx="276.25" cy="134.55" r="1.2" stroke="#3c3cff" stroke-width="0.85" fill="none"/>
<circle cx="279.00" cy="127.35" r="1.2" stroke="#3c3cff" stroke-width="0.85" fill="none"/>
<circle cx="281.76" cy="128.45" r="1.2" stroke="#3c3cff" stroke-width="0.85" fill="none"/>
<circle cx="284.51" cy="114.75" r="1.2" stroke="#3c3cff" stroke-width="0.85" fill="none"/>
<circle cx="287.26" cy="131.30" r="1.2" stroke="#3c3cff" stroke-width="0.85" fill="none"/>
<circle cx="290.02" cy="152.15" r="1.2" stroke="#3c3cff" stroke-width="0.85" fill="none"/>
<circle cx="292.77" cy="136.40" r="1.2" stroke="#3c3cff" stroke-width="0.85" fill="none"/>
<circle cx="295.52" cy="150.35" r="1.2" stroke="#3c3cff" stroke-width="0.85" fill="none"/>
<circle cx="298.28" cy="127.75" r="1.2" stroke="#3c3cff" stroke-width="0.85" fill="none"/>
<circle cx="301.03" cy="162.05" r="1.2" stroke="#3c3cff" stroke-width="0.85" fill="none"/>
<circle cx="303.78" cy="142.45" r="1.2" stroke="#3c3cff" stroke-width="0.85" fill="none"/>
<circle cx="306.53" cy="157.95" r="1.2" stroke="#3c3cff" stroke-width="0.85" fill="none"/>
<circle cx="309.29" cy="132.65" r="1.2" stroke="#3c3cff" stroke-width="0.85" fill="none"/>
<circle cx="312.04" cy="138.55" r="1.2" stroke="#3c3cff" stroke-width="0.85" fill="none"/>
<circle cx="314.79" cy="129.35" r="1.2" stroke="#3c3cff" stroke-width="0.85" fill="none"/>
<circle cx="317.55" cy="152.65" r="1.2" stroke="#3c3cff" stroke-width="0.85" fill="none"/>
<circle cx="320.30" cy="136.95" r="1.2" stroke="#3c3cff" stroke-width="0.85" fill="none"/>
<circle cx="323.05" cy="120.05" r="1.2" stroke="#3c3cff" stroke-width="0.85" fill="none"/>
<circle cx="325.81" cy="132.05" r="1.2" stroke="#3c3cff" stroke-width="0.85" fill="none"/>
<circle cx="328.56" cy="132.75" r="1.2" stroke="#3c3cff" stroke-width="0.85" fill="none"/>
<circle cx="331.31" cy="137.25" r="1.2" stroke="#3c3cff" stroke-width="0.85" fill="none"/>
<circle cx="334.06" cy="109.45" r="1.2" stroke="#3c3cff" stroke-width="0.85" fill="none"/>
<circle cx="336.82" cy="135.15" r="1.2" stroke="#3c3cff" stroke-width="0.85" fill="none"/>
<circle cx="339.57" cy="145.65" r="1.2" stroke="#3c3cff" stroke-width="0.85" fill="none"/>
<circle cx="342.32" cy="147.35" r="1.2" stroke="#3c3cff" stroke-width="0.85" fill="none"/>
<circle cx="345.08" cy="144.35" r="1.2" stroke="#3c3cff" stroke-width="0.85" fill="none"/>
<circle cx="347.83" cy="156.75" r="1.2" stroke="#3c3cff" stroke-width="0.85" fill="none"/>
<circle cx="350.58" cy="155.75" r="1.2" stroke="#3c3cff" stroke-width="0.85" fill="none"/>
<circle cx="353.34" cy="148.85" r="1.2" stroke="#3c3cff" stroke-width="0.85" fill="none"/>
<circle cx="356.09" cy="161.35" r="1.2" stroke="#3c3cff" stroke-width="0.85" fill="none"/>
<circle cx="358.84" cy="178.45" r="1.2" stroke="#3c3cff" stroke-width="0.85" fill="none"/>
<circle cx="361.59" cy="168.05" r="1.2" stroke="#3c3cff" stroke-width="0.85" fill="none"/>
<circle cx="364.35" cy="175.05" r="1.2" stroke="#3c3cff" stroke-width="0.85" fill="none"/>
<circle cx="367.10" cy="148.75" r="1.2" stroke="#3c3cff" stroke-width="0.85" fill="none"/>
<circle cx="369.85" cy="139.55" r="1.2" stroke="#3c3cff" stroke-width="0.85" fill="none"/>
<circle cx="372.61" cy="154.65" r="1.2" stroke="#3c3cff" stroke-width="0.85" fill="none"/>
<circle cx="375.36" cy="143.85" r="1.2" stroke="#3c3cff" stroke-width="0.85" fill="none"/>
<circle cx="378.11" cy="151.45" r="1.2" stroke="#3c3cff" stroke-width="0.85" fill="none"/>
<circle cx="380.87" cy="158.65" r="1.2" stroke="#3c3cff" stroke-width="0.85" fill="none"/>
<circle cx="383.62" cy="161.65" r="1.2" stroke="#3c3cff" stroke-width="0.85" fill="none"/>
<circle cx="386.37" cy="145.85" r="1.2" stroke="#3c3cff" stroke-width="0.85" fill="none"/>
<text transform="translate(392.70,119.26) scale(1,1.1)" font-size="6.25" text-anchor="end" fill="#9a9a9a" stroke="#9a9a9a" stroke-width="0.18">R<tspan font-size="3.75" dy="-1.88">2</tspan><tspan dy="1.88">=0.004</tspan></text>
<text transform="translate(393.00,125.86) scale(1,1.1)" font-size="6.25" text-anchor="end" fill="#ff0000" stroke="#ff0000" stroke-width="0" font-weight="bold">R<tspan font-size="3.75" dy="-1.88">2</tspan><tspan dy="1.88">=0.182</tspan></text>
<rect x="45.20" y="210.80" width="136.40" height="100.50" fill="none" stroke="#7a7a7a" stroke-width="1.3"/>
<line x1="42.00" y1="303.10" x2="44.90" y2="303.10" stroke="#4a4a4a" stroke-width="0.9" />
<text transform="translate(40.10,303.10) rotate(-90) scale(1,1.08)" font-size="6.2" text-anchor="middle" fill="#1a1a1a" stroke="#1a1a1a" stroke-width="0.18" >0</text>
<line x1="42.00" y1="279.90" x2="44.90" y2="279.90" stroke="#4a4a4a" stroke-width="0.9" />
<text transform="translate(40.10,279.90) rotate(-90) scale(1,1.08)" font-size="6.2" text-anchor="middle" fill="#1a1a1a" stroke="#1a1a1a" stroke-width="0.18" >1</text>
<line x1="42.00" y1="256.70" x2="44.90" y2="256.70" stroke="#4a4a4a" stroke-width="0.9" />
<text transform="translate(40.10,256.70) rotate(-90) scale(1,1.08)" font-size="6.2" text-anchor="middle" fill="#1a1a1a" stroke="#1a1a1a" stroke-width="0.18" >2</text>
<line x1="42.00" y1="233.50" x2="44.90" y2="233.50" stroke="#4a4a4a" stroke-width="0.9" />
<text transform="translate(40.10,233.50) rotate(-90) scale(1,1.08)" font-size="6.2" text-anchor="middle" fill="#1a1a1a" stroke="#1a1a1a" stroke-width="0.18" >3</text>
<line x1="64.80" y1="311.60" x2="64.80" y2="314.70" stroke="#4a4a4a" stroke-width="0.9" />
<text transform="translate(65.20,321.25) scale(1,1.15)" font-size="6.2" text-anchor="middle" fill="#1a1a1a" stroke="#1a1a1a" stroke-width="0.18" >10</text>
<line x1="84.62" y1="311.60" x2="84.62" y2="314.70" stroke="#4a4a4a" stroke-width="0.9" />
<text transform="translate(85.02,321.25) scale(1,1.15)" font-size="6.2" text-anchor="middle" fill="#1a1a1a" stroke="#1a1a1a" stroke-width="0.18" >20</text>
<line x1="104.44" y1="311.60" x2="104.44" y2="314.70" stroke="#4a4a4a" stroke-width="0.9" />
<text transform="translate(104.84,321.25) scale(1,1.15)" font-size="6.2" text-anchor="middle" fill="#1a1a1a" stroke="#1a1a1a" stroke-width="0.18" >30</text>
<line x1="124.26" y1="311.60" x2="124.26" y2="314.70" stroke="#4a4a4a" stroke-width="0.9" />
<text transform="translate(124.66,321.25) scale(1,1.15)" font-size="6.2" text-anchor="middle" fill="#1a1a1a" stroke="#1a1a1a" stroke-width="0.18" >40</text>
<line x1="144.08" y1="311.60" x2="144.08" y2="314.70" stroke="#4a4a4a" stroke-width="0.9" />
<text transform="translate(144.48,321.25) scale(1,1.15)" font-size="6.2" text-anchor="middle" fill="#1a1a1a" stroke="#1a1a1a" stroke-width="0.18" >50</text>
<line x1="163.90" y1="311.60" x2="163.90" y2="314.70" stroke="#4a4a4a" stroke-width="0.9" />
<text transform="translate(164.30,321.25) scale(1,1.15)" font-size="6.2" text-anchor="middle" fill="#1a1a1a" stroke="#1a1a1a" stroke-width="0.18" >60</text>
<text transform="translate(117.40,332.80) scale(1,1.15)" font-size="7.6" text-anchor="middle" fill="#1a1a1a" stroke="#1a1a1a" stroke-width="0.18">Forest loss (%)</text>
<text transform="translate(26.00,261.30) rotate(-90) scale(1,1.08)" font-size="7.8" text-anchor="middle" fill="#1a1a1a" stroke="#1a1a1a" stroke-width="0.18">Change in mean (%)</text>
<text transform="translate(48.80,217.80) scale(1,1.15)" font-size="6.0" text-anchor="start" fill="#1a1a1a" stroke="#1a1a1a" stroke-width="0.18">e)</text>
<line x1="45.20" y1="287.45" x2="181.60" y2="261.30" stroke="#333" stroke-width="0.9" />
<line x1="57.40" y1="311.30" x2="166.87" y2="212.00" stroke="#1a1a1a" stroke-width="1.1" stroke-dasharray="4.2 3.6" stroke-dashoffset="2.7"/>
<text transform="translate(115.30,217.67) scale(1,1.15)" font-size="6.0" text-anchor="middle" fill="#1a1a1a" stroke="#1a1a1a" stroke-width="0.18" >113</text>
<text transform="translate(91.60,270.67) scale(1,1.15)" font-size="6.0" text-anchor="middle" fill="#1a1a1a" stroke="#1a1a1a" stroke-width="0.18" >156</text>
<text transform="translate(79.30,284.07) scale(1,1.15)" font-size="6.0" text-anchor="middle" fill="#1a1a1a" stroke="#1a1a1a" stroke-width="0.18" >71</text>
<text transform="translate(78.00,297.27) scale(1,1.15)" font-size="6.0" text-anchor="middle" fill="#1a1a1a" stroke="#1a1a1a" stroke-width="0.18" >112</text>
<text transform="translate(49.80,280.57) scale(1,1.15)" font-size="6.0" text-anchor="middle" fill="#1a1a1a" stroke="#1a1a1a" stroke-width="0.18" >60</text>
<text transform="translate(53.90,291.37) scale(1,1.15)" font-size="6.0" text-anchor="middle" fill="#1a1a1a" stroke="#1a1a1a" stroke-width="0.18" >53</text>
<text transform="translate(60.60,298.77) scale(1,1.15)" font-size="6.0" text-anchor="middle" fill="#1a1a1a" stroke="#1a1a1a" stroke-width="0.18" >73</text>
<text transform="translate(68.10,310.47) scale(1,1.15)" font-size="6.0" text-anchor="middle" fill="#1a1a1a" stroke="#1a1a1a" stroke-width="0.18" >40</text>
<text transform="translate(175.90,292.57) scale(1,1.15)" font-size="6.0" text-anchor="middle" fill="#1a1a1a" stroke="#1a1a1a" stroke-width="0.18" >143</text>
<circle cx="175.9" cy="290.1" r="6.1" fill="none" stroke="#333" stroke-width="0.8"/>
<text transform="translate(175.30,238.06) scale(1,1.1)" font-size="6.25" text-anchor="end" fill="#1a1a1a" stroke="#1a1a1a" stroke-width="0.18">R<tspan font-size="3.75" dy="-1.88">2</tspan><tspan dy="1.88">=0.619</tspan></text>
<text transform="translate(175.40,275.96) scale(1,1.1)" font-size="6.25" text-anchor="end" fill="#1a1a1a" stroke="#1a1a1a" stroke-width="0.18">R<tspan font-size="3.75" dy="-1.88">2</tspan><tspan dy="1.88">=0.106</tspan></text>
<rect x="243.40" y="210.70" width="136.60" height="100.50" fill="none" stroke="#7a7a7a" stroke-width="1.3"/>
<line x1="240.20" y1="221.30" x2="243.10" y2="221.30" stroke="#4a4a4a" stroke-width="0.9" />
<text transform="translate(238.00,221.30) rotate(-90) scale(1,1.08)" font-size="6.2" text-anchor="middle" fill="#1a1a1a" stroke="#1a1a1a" stroke-width="0.18" >-10</text>
<line x1="240.20" y1="237.32" x2="243.10" y2="237.32" stroke="#4a4a4a" stroke-width="0.9" />
<text transform="translate(238.00,237.32) rotate(-90) scale(1,1.08)" font-size="6.2" text-anchor="middle" fill="#1a1a1a" stroke="#1a1a1a" stroke-width="0.18" >-12</text>
<line x1="240.20" y1="253.34" x2="243.10" y2="253.34" stroke="#4a4a4a" stroke-width="0.9" />
<text transform="translate(238.00,253.34) rotate(-90) scale(1,1.08)" font-size="6.2" text-anchor="middle" fill="#1a1a1a" stroke="#1a1a1a" stroke-width="0.18" >-14</text>
<line x1="240.20" y1="269.36" x2="243.10" y2="269.36" stroke="#4a4a4a" stroke-width="0.9" />
<text transform="translate(238.00,269.36) rotate(-90) scale(1,1.08)" font-size="6.2" text-anchor="middle" fill="#1a1a1a" stroke="#1a1a1a" stroke-width="0.18" >-16</text>
<line x1="240.20" y1="285.38" x2="243.10" y2="285.38" stroke="#4a4a4a" stroke-width="0.9" />
<text transform="translate(238.00,285.38) rotate(-90) scale(1,1.08)" font-size="6.2" text-anchor="middle" fill="#1a1a1a" stroke="#1a1a1a" stroke-width="0.18" >-18</text>
<line x1="240.20" y1="301.40" x2="243.10" y2="301.40" stroke="#4a4a4a" stroke-width="0.9" />
<text transform="translate(238.00,301.40) rotate(-90) scale(1,1.08)" font-size="6.2" text-anchor="middle" fill="#1a1a1a" stroke="#1a1a1a" stroke-width="0.18" >-20</text>
<line x1="262.60" y1="311.50" x2="262.60" y2="314.60" stroke="#4a4a4a" stroke-width="0.9" />
<text transform="translate(263.00,321.25) scale(1,1.15)" font-size="6.2" text-anchor="middle" fill="#1a1a1a" stroke="#1a1a1a" stroke-width="0.18" >10</text>
<line x1="282.50" y1="311.50" x2="282.50" y2="314.60" stroke="#4a4a4a" stroke-width="0.9" />
<text transform="translate(282.90,321.25) scale(1,1.15)" font-size="6.2" text-anchor="middle" fill="#1a1a1a" stroke="#1a1a1a" stroke-width="0.18" >20</text>
<line x1="302.40" y1="311.50" x2="302.40" y2="314.60" stroke="#4a4a4a" stroke-width="0.9" />
<text transform="translate(302.80,321.25) scale(1,1.15)" font-size="6.2" text-anchor="middle" fill="#1a1a1a" stroke="#1a1a1a" stroke-width="0.18" >30</text>
<line x1="322.30" y1="311.50" x2="322.30" y2="314.60" stroke="#4a4a4a" stroke-width="0.9" />
<text transform="translate(322.70,321.25) scale(1,1.15)" font-size="6.2" text-anchor="middle" fill="#1a1a1a" stroke="#1a1a1a" stroke-width="0.18" >40</text>
<line x1="342.20" y1="311.50" x2="342.20" y2="314.60" stroke="#4a4a4a" stroke-width="0.9" />
<text transform="translate(342.60,321.25) scale(1,1.15)" font-size="6.2" text-anchor="middle" fill="#1a1a1a" stroke="#1a1a1a" stroke-width="0.18" >50</text>
<line x1="362.10" y1="311.50" x2="362.10" y2="314.60" stroke="#4a4a4a" stroke-width="0.9" />
<text transform="translate(362.50,321.25) scale(1,1.15)" font-size="6.2" text-anchor="middle" fill="#1a1a1a" stroke="#1a1a1a" stroke-width="0.18" >60</text>
<text transform="translate(315.40,332.80) scale(1,1.15)" font-size="7.6" text-anchor="middle" fill="#1a1a1a" stroke="#1a1a1a" stroke-width="0.18">Forest loss (%)</text>
<text transform="translate(224.00,261.10) rotate(-90) scale(1,1.08)" font-size="7.8" text-anchor="middle" fill="#1a1a1a" stroke="#1a1a1a" stroke-width="0.18">Change in mean (%)</text>
<text transform="translate(246.70,217.70) scale(1,1.15)" font-size="6.0" text-anchor="start" fill="#1a1a1a" stroke="#1a1a1a" stroke-width="0.18">f)</text>
<line x1="243.40" y1="255.20" x2="365.00" y2="311.20" stroke="#333" stroke-width="0.9" />
<text transform="translate(265.90,218.07) scale(1,1.15)" font-size="6.0" text-anchor="middle" fill="#1a1a1a" stroke="#1a1a1a" stroke-width="0.18" >40</text>
<text transform="translate(258.00,233.97) scale(1,1.15)" font-size="6.0" text-anchor="middle" fill="#1a1a1a" stroke="#1a1a1a" stroke-width="0.18" >73</text>
<text transform="translate(250.70,268.07) scale(1,1.15)" font-size="6.0" text-anchor="middle" fill="#1a1a1a" stroke="#1a1a1a" stroke-width="0.18" >53</text>
<text transform="translate(274.00,276.47) scale(1,1.15)" font-size="6.0" text-anchor="middle" fill="#1a1a1a" stroke="#1a1a1a" stroke-width="0.18" >112</text>
<text transform="translate(247.50,285.77) scale(1,1.15)" font-size="6.0" text-anchor="middle" fill="#1a1a1a" stroke="#1a1a1a" stroke-width="0.18" >60</text>
<text transform="translate(277.30,297.07) scale(1,1.15)" font-size="6.0" text-anchor="middle" fill="#1a1a1a" stroke="#1a1a1a" stroke-width="0.18" >71</text>
<text transform="translate(289.50,307.37) scale(1,1.15)" font-size="6.0" text-anchor="middle" fill="#1a1a1a" stroke="#1a1a1a" stroke-width="0.18" >156</text>
<text transform="translate(313.50,294.37) scale(1,1.15)" font-size="6.0" text-anchor="middle" fill="#1a1a1a" stroke="#1a1a1a" stroke-width="0.18" >113</text>
<text transform="translate(374.30,310.27) scale(1,1.15)" font-size="6.0" text-anchor="middle" fill="#1a1a1a" stroke="#1a1a1a" stroke-width="0.18" >143</text>
<text transform="translate(373.60,222.76) scale(1,1.1)" font-size="6.25" text-anchor="end" fill="#1a1a1a" stroke="#1a1a1a" stroke-width="0.18">R<tspan font-size="3.75" dy="-1.88">2</tspan><tspan dy="1.88">=0.368</tspan></text>
</svg>
</body></html>
